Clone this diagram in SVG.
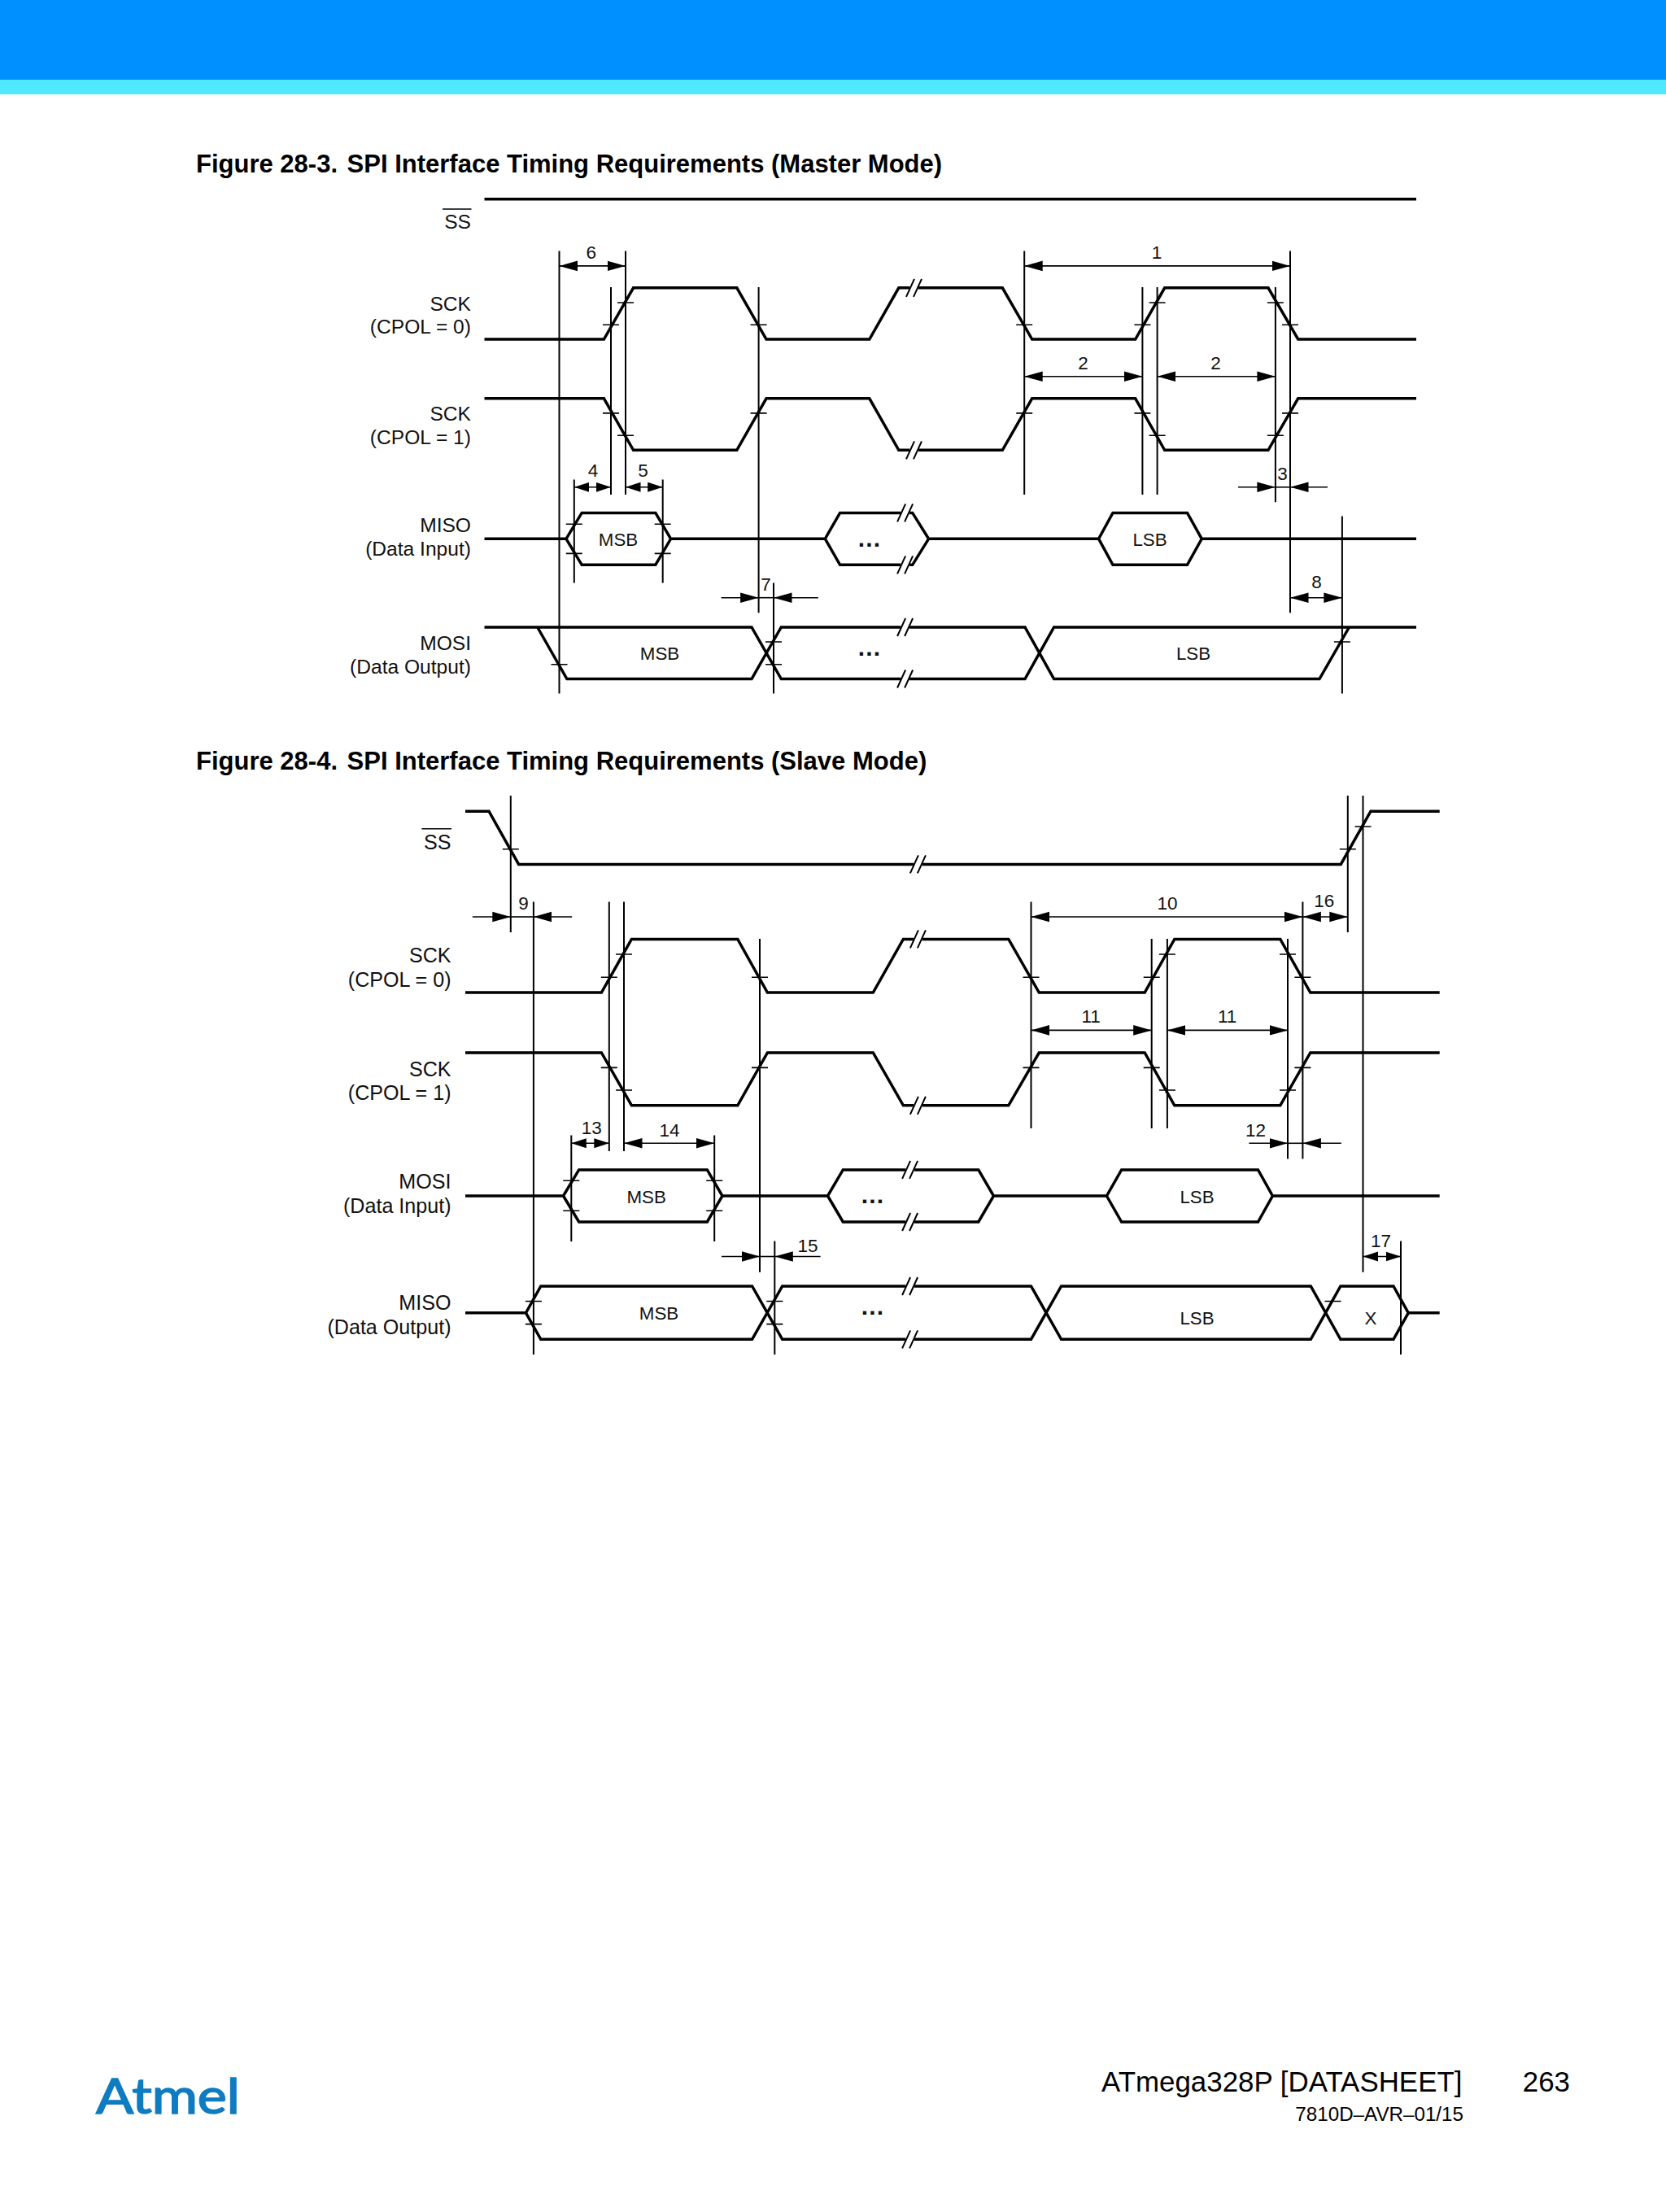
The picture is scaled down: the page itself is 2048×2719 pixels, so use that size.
<svg xmlns="http://www.w3.org/2000/svg" xmlns:xlink="http://www.w3.org/1999/xlink" width="2048" height="2719" viewBox="0 0 2048 2719">
<style>
.sig{fill:none;stroke:#000;stroke-width:3.5;stroke-linejoin:miter;stroke-linecap:butt}
.thin{fill:none;stroke:#000;stroke-width:2}
.tick{fill:none;stroke:#000;stroke-width:1.6}
text{font-family:"Liberation Sans",Arial,sans-serif;fill:#111}
.lab{font-size:24.6px;text-anchor:end}
.lab2{font-size:25.1px;text-anchor:end}
.num{font-size:22.5px;text-anchor:middle}
.dat{font-size:22.3px;text-anchor:middle}
.dots{font-size:30px;font-weight:bold;text-anchor:middle;letter-spacing:1.2px}
.title{font-size:31px;font-weight:bold;fill:#000}
</style>
<defs>
<marker id="arr" markerUnits="userSpaceOnUse" viewBox="0 -7 23 14" markerWidth="23" markerHeight="14" refX="22.5" refY="0" orient="auto-start-reverse"><path d="M0,-6.3 L22.5,0 L0,6.3z" fill="#000"/></marker>
<marker id="ars" markerUnits="userSpaceOnUse" viewBox="0 -7 19 14" markerWidth="19" markerHeight="14" refX="18.5" refY="0" orient="auto-start-reverse"><path d="M0,-6 L18.5,0 L0,6z" fill="#000"/></marker>
<g id="brk"><path d="M-5,-4 L6,-4 L5,4 L-6,4z" fill="#fff"/><path d="M-9.5,11 L.5,-11 M-.5,11 L9.5,-11" class="tick" style="stroke-width:2"/></g>
</defs>
<rect id="header-blue" x="0" y="0" width="2048" height="98" fill="#0090ff"/>
<rect id="header-cyan" x="0" y="98" width="2048" height="18" fill="#50e8ff"/>

<text class="title" x="241" y="212">Figure 28-3.<tspan x="426.6">SPI Interface Timing Requirements (Master Mode)</tspan></text>

<g id="fig1-ss"><path class="sig" d="M595.5,244.8H1741"/><path class="tick" d="M544,257H579.5"/><text class="lab" x="579" y="281.4">SS</text></g>
<g id="fig1-sck0"><path class="sig" d="M595.5,417H742.4L778.6,353.8H905.8L942,417H1068.8L1104.8,353.8H1232.3L1268.7,417H1395.7L1431.7,353.8H1559L1595.7,417H1741"/><use xlink:href="#brk" href="#brk" x="1123.5" y="353.8"/><text class="lab" x="579" y="381.6">SCK</text><text class="lab" x="579" y="410">(CPOL = 0)</text></g>
<g id="fig1-sck1"><path class="sig" d="M595.5,489.8H742.4L778.6,553.3H905.8L942,489.8H1068.8L1104.8,553.3H1232.3L1268.7,489.8H1395.7L1431.7,553.3H1559L1595.7,489.8H1741"/><use xlink:href="#brk" href="#brk" x="1123.5" y="553.3"/><text class="lab" x="579" y="517">SCK</text><text class="lab" x="579" y="545.8">(CPOL = 1)</text></g>
<g id="fig1-miso"><path class="sig" d="M595.5,662.3H696L715.2,630.4H805.8L824.6,662.3L805.8,694.3H715.2L696,662.3M824.6,662.3H1014.3L1032.6,630.4H1121.7L1141.6,662.3L1121.7,694.3H1032.6L1014.3,662.3M1141.6,662.3H1350.6L1368,630.4H1459.5L1477.3,662.3L1459.5,694.3H1368L1350.6,662.3M1477.3,662.3H1741"/><use xlink:href="#brk" href="#brk" x="1112.6" y="630.4"/><use xlink:href="#brk" href="#brk" x="1112.6" y="694.3"/><text class="lab" x="579" y="654">MISO</text><text class="lab" x="579" y="682.5">(Data Input)</text><text class="dat" x="760" y="671">MSB</text><text class="dots" x="1069" y="672">...</text><text class="dat" x="1413.5" y="671">LSB</text></g>
<g id="fig1-mosi"><path class="sig" d="M595.5,771H924L960.3,834.5H1260L1295.6,771H1741M660.7,771L696.9,834.5H924L960.3,771H1260L1295.6,834.5H1622L1658.5,771"/><use xlink:href="#brk" href="#brk" x="1112.6" y="771"/><use xlink:href="#brk" href="#brk" x="1112.6" y="834.5"/><text class="lab" x="579" y="798.7">MOSI</text><text class="lab" x="579" y="827.7">(Data Output)</text><text class="dat" x="811" y="811">MSB</text><text class="dots" x="1069" y="806">...</text><text class="dat" x="1467" y="811">LSB</text></g>

<g id="fig1-connectors">
<path class="thin" d="M687.5,308.4V852.6M751,353V608M769,308.4V608M932.6,353V753.3M705.8,589.5V716.6M814.7,589.5V716.6M951,716.6V852.6M1259.2,308.4V608M1404.4,353V608M1422.6,353V608M1567.9,353V617.3M1586,308.4V753.3M1649.9,634.6V852.6"/>
<path class="tick" d="M741,399.3h20M759,372h20M922.6,399.3h20M741,507.9h20M759,535.2h20M922.6,507.9h20M1249.2,399.3h20M1394.4,399.3h20M1412.6,372h20M1557.9,372h20M1576,399.3h20M1249.2,507.9h20M1394.4,507.9h20M1412.6,535.2h20M1557.9,535.2h20M1576,507.9h20M695.8,644.2h20M695.8,680.4h20M804.7,644.2h20M804.7,680.4h20M677.5,816.8h20M941,789h20M941,816.8h20M1639.9,789h20"/>
<path class="tick" d="M687.5,326.9H769" marker-start="url(#arr)" marker-end="url(#arr)"/>
<path class="tick" d="M1259.2,326.9H1586" marker-start="url(#arr)" marker-end="url(#arr)"/>
<path class="tick" d="M1259.2,462.8H1404.4" marker-start="url(#arr)" marker-end="url(#arr)"/>
<path class="tick" d="M1422.6,462.8H1567.9" marker-start="url(#arr)" marker-end="url(#arr)"/>
<path class="tick" d="M705.8,598.8H751" marker-start="url(#ars)" marker-end="url(#ars)"/>
<path class="tick" d="M769,598.8H814.7" marker-start="url(#ars)" marker-end="url(#ars)"/>
<path class="tick" d="M1567.9,598.8H1586"/>
<path class="tick" d="M1522,598.8H1567.9" marker-end="url(#arr)"/>
<path class="tick" d="M1632,598.8H1586" marker-end="url(#arr)"/>
<path class="tick" d="M932.6,734.7H951"/>
<path class="tick" d="M886.6,734.7H932.6" marker-end="url(#arr)"/>
<path class="tick" d="M1005.8,734.7H951" marker-end="url(#arr)"/>
<path class="tick" d="M1586,734.7H1649.9" marker-start="url(#arr)" marker-end="url(#arr)"/>
<text class="num" x="726.8" y="318">6</text><text class="num" x="1422" y="318">1</text><text class="num" x="1331.6" y="453.6">2</text><text class="num" x="1494.6" y="453.6">2</text><text class="num" x="729" y="586">4</text><text class="num" x="790.6" y="586">5</text><text class="num" x="1576.6" y="590.4">3</text><text class="num" x="941.5" y="726.3">7</text><text class="num" x="1618.6" y="723">8</text>
</g>

<text class="title" x="241" y="946">Figure 28-4.<tspan x="426.6">SPI Interface Timing Requirements (Slave Mode)</tspan></text>

<g id="fig2-ss"><path class="sig" d="M572,997.2H601L637.6,1062.4H1648.3L1685,997.2H1769.7"/><use xlink:href="#brk" href="#brk" x="1128.4" y="1062.4"/><path class="tick" d="M518.4,1018.7H555"/><text class="lab2" x="554.5" y="1043.7">SS</text></g>
<g id="fig2-sck0"><path class="sig" d="M572,1220H739.4L776.4,1154.4H906.8L943.4,1220H1073.3L1110.4,1154.4H1239.8L1277.3,1220H1407.2L1443.8,1154.4H1573.8L1610.8,1220H1769.7"/><use xlink:href="#brk" href="#brk" x="1128.4" y="1154.4"/><text class="lab2" x="554.5" y="1183.4">SCK</text><text class="lab2" x="554.5" y="1213.3">(CPOL = 0)</text></g>
<g id="fig2-sck1"><path class="sig" d="M572,1294H739.4L776.4,1358.8H906.8L943.4,1294H1073.3L1110.4,1358.8H1239.8L1277.3,1294H1407.2L1443.8,1358.8H1573.8L1610.8,1294H1769.7"/><use xlink:href="#brk" href="#brk" x="1128.4" y="1358.8"/><text class="lab2" x="554.5" y="1322.7">SCK</text><text class="lab2" x="554.5" y="1352">(CPOL = 1)</text></g>
<g id="fig2-mosi"><path class="sig" d="M572,1470H692.5L711.7,1437.9H869.3L888,1470L869.3,1502H711.7L692.5,1470M888,1470H1017.5L1036.3,1437.9H1202.8L1221.5,1470L1202.8,1502H1036.3L1017.5,1470M1221.5,1470H1360.4L1378.7,1437.9H1546.5L1564.4,1470L1546.5,1502H1378.7L1360.4,1470M1564.4,1470H1769.7"/><use xlink:href="#brk" href="#brk" x="1118.6" y="1437.9"/><use xlink:href="#brk" href="#brk" x="1118.6" y="1502"/><text class="lab2" x="554.5" y="1461">MOSI</text><text class="lab2" x="554.5" y="1491">(Data Input)</text><text class="dat" x="794.7" y="1479">MSB</text><text class="dots" x="1073" y="1479">...</text><text class="dat" x="1471.5" y="1479">LSB</text></g>
<g id="fig2-miso"><path class="sig" d="M572,1613.8H646.5L664.8,1581H924.6L961.7,1646.3H1267.5L1304.6,1581H1611.3L1647.9,1646.3H1713L1731.3,1613.8H1769.7M646.5,1613.8L664.8,1646.3H924.6L961.7,1581H1267.5L1304.6,1646.3H1611.3L1647.9,1581H1713L1731.3,1613.8"/><use xlink:href="#brk" href="#brk" x="1118.6" y="1581"/><use xlink:href="#brk" href="#brk" x="1118.6" y="1646.3"/><text class="lab2" x="554.5" y="1609.7">MISO</text><text class="lab2" x="554.5" y="1639.6">(Data Output)</text><text class="dat" x="810" y="1621.5">MSB</text><text class="dots" x="1073" y="1616">...</text><text class="dat" x="1471.5" y="1627.5">LSB</text><text class="dat" x="1685" y="1627.5">X</text></g>

<g id="fig2-connectors">
<path class="thin" d="M627.8,978V1145.9M655.9,1108.4V1665M748.8,1108.4V1415M767,1108.4V1415M934,1154V1563.8M702.3,1395.4V1526M878.2,1395.4V1526M952.3,1525.4V1665M1267.5,1108.4V1387M1415.7,1154V1387M1434.9,1154V1387M1583,1154V1424.5M1601.4,1108.4V1424.5M1656.8,978V1145.9M1675.5,978V1563.8M1722,1525.4V1665"/>
<path class="tick" d="M617.8,1043.7h20M1646.8,1043.7h20M1665.5,1016h20M738.8,1201.3h20M757,1173h20M924,1201.3h20M1257.5,1201.3h20M1405.7,1201.3h20M1424.9,1173h20M1573,1173h20M1591.4,1201.3h20M738.8,1312.4h20M757,1340h20M924,1312.4h20M1257.5,1312.4h20M1405.7,1312.4h20M1424.9,1340h20M1573,1340h20M1591.4,1312.4h20M692.3,1451.3h20M692.3,1488.3h20M868.2,1451.3h20M868.2,1488.3h20M645.9,1599.5h20M645.9,1627.6h20M942.3,1599.5h20M942.3,1627.6h20M1628.5,1599.5h20"/>
<path class="tick" d="M627.8,1127H655.9"/>
<path class="tick" d="M580.9,1127H627.8" marker-end="url(#arr)"/>
<path class="tick" d="M703.2,1127H655.9" marker-end="url(#arr)"/>
<path class="tick" d="M1267.5,1127H1601.4" marker-start="url(#arr)" marker-end="url(#arr)"/>
<path class="tick" d="M1601.4,1127H1656.8" marker-start="url(#arr)" marker-end="url(#arr)"/>
<path class="tick" d="M1267.5,1266.4H1415.7" marker-start="url(#arr)" marker-end="url(#arr)"/>
<path class="tick" d="M1434.9,1266.4H1583" marker-start="url(#arr)" marker-end="url(#arr)"/>
<path class="tick" d="M702.3,1405.3H748.8" marker-start="url(#ars)" marker-end="url(#ars)"/>
<path class="tick" d="M767,1405.3H878.2" marker-start="url(#arr)" marker-end="url(#arr)"/>
<path class="tick" d="M1583,1405.3H1601.4"/>
<path class="tick" d="M1535.4,1405.3H1583" marker-end="url(#arr)"/>
<path class="tick" d="M1648.8,1405.3H1601.4" marker-end="url(#arr)"/>
<path class="tick" d="M934,1544.5H952.3"/>
<path class="tick" d="M887,1544.5H934" marker-end="url(#arr)"/>
<path class="tick" d="M1008.6,1544.5H952.3" marker-end="url(#arr)"/>
<path class="tick" d="M1675.5,1544.5H1722" marker-start="url(#ars)" marker-end="url(#ars)"/>
<text class="num" x="643.4" y="1118">9</text><text class="num" x="1434.9" y="1118">10</text><text class="num" x="1627.8" y="1115">16</text><text class="num" x="1341.2" y="1257">11</text><text class="num" x="1508.6" y="1257">11</text><text class="num" x="727.3" y="1394">13</text><text class="num" x="822.9" y="1396.8">14</text><text class="num" x="1543.4" y="1396.8">12</text><text class="num" x="993" y="1538.8">15</text><text class="num" x="1697.4" y="1532.5">17</text>
</g>

<g id="footer">
<text id="logo" x="118" y="2598" textLength="177" lengthAdjust="spacingAndGlyphs" style="font-family:Lato,'Open Sans',sans-serif;font-size:60px;fill:#0f7cc1;stroke:#0f7cc1;stroke-width:1.6">Atmel</text>
<text x="1354" y="2571" style="font-size:34.9px;fill:#000">ATmega328P [DATASHEET]</text>
<text x="1930" y="2571" text-anchor="end" style="font-size:34.9px;fill:#000">263</text>
<text x="1799" y="2607" text-anchor="end" style="font-size:24.2px;fill:#000">7810D–AVR–01/15</text>
</g>
</svg>
